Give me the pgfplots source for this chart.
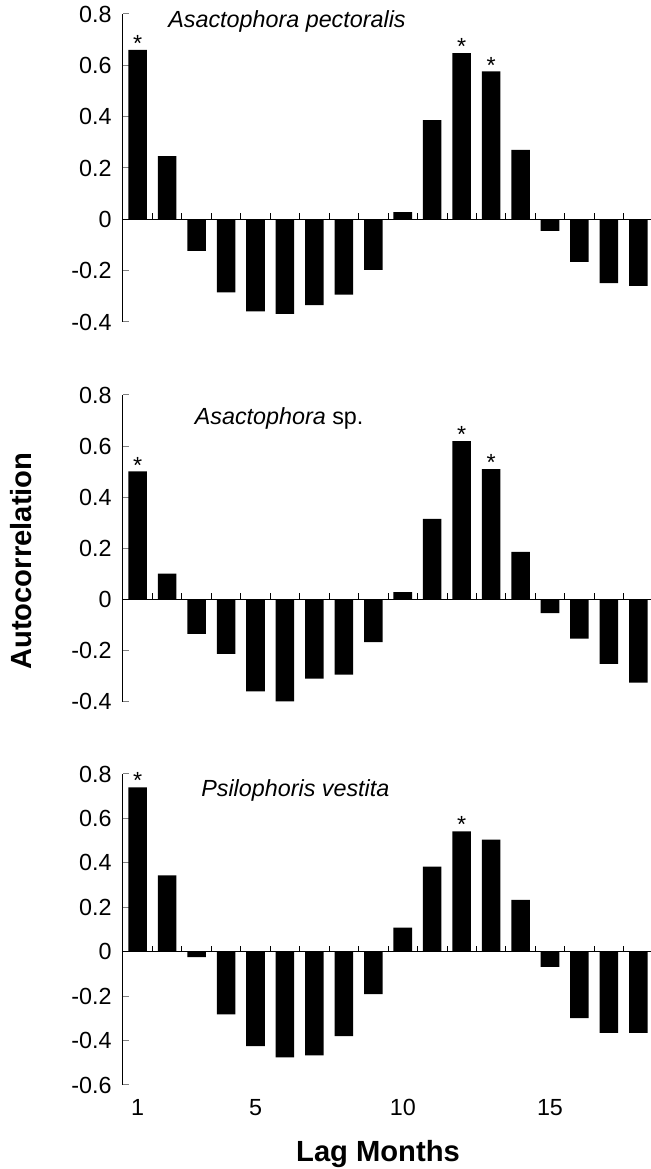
\documentclass[border=0pt]{standalone}
\usepackage{fontspec}
\setmainfont{Liberation Sans}
\usepackage{pgfplots}
\pgfplotsset{compat=1.18}

% 1 px of the reference = 0.6pt
\pgfplotsset{
  acf/.style={
    scale only axis, width=316.8pt,
    xmin=0.5, xmax=18.43,
    axis y line*=left, axis x line*=bottom,
    x axis line style={draw=none}, xtick style={draw=none},
    y axis line style={line width=0.6pt}, ytick style={line width=0.6pt},
    tick align=inside, major tick length=3.8pt,
    yticklabel style={font=\fontsize{14}{14}\selectfont, inner sep=0pt, xshift=-6.6pt},
    xticklabel style={font=\fontsize{14}{14}\selectfont, anchor=base, inner sep=0pt},
    clip=false,
  },
  bars/.style={ybar, bar shift=0pt, bar width=0.63, fill=black, draw=none},
  stars/.style={draw=none, mark=none, nodes near coords={*},
    every node near coord/.append style={font=\fontsize{14}{14}\selectfont, inner sep=0pt, yshift=-1.2pt}},
}
\newcommand{\zeroline}{%
  \draw[line width=0.8pt] (axis cs:0.5,0) -- (axis cs:18.43,0);
  \pgfplotsinvokeforeach{1.5,2.5,...,17.5}{\draw[line width=0.5pt] (axis cs:##1,0) -- ++(0pt,3.6pt);}
}

\begin{document}
\begin{tikzpicture}
\path[use as bounding box] (0,0) rectangle (390.6pt,701.4pt);

% Asactophora pectoralis
\begin{axis}[acf, at={(73.8pt,508.2pt)}, anchor=south west, height=184.8pt,
  ymin=-0.4, ymax=0.8, xtick=\empty,
  ytick={-0.4,-0.2,0,0.2,0.4,0.6,0.8}, yticklabels={-0.4,-0.2,0,0.2,0.4,0.6,0.8}]
\addplot[bars] coordinates {
(1,0.660) (2,0.246) (3,-0.123) (4,-0.285) (5,-0.359) (6,-0.368)
(7,-0.334) (8,-0.293) (9,-0.197) (10,0.028) (11,0.386) (12,0.647)
(13,0.576) (14,0.271) (15,-0.045) (16,-0.166) (17,-0.249) (18,-0.259)};
\addplot[stars] coordinates {(1,0.660) (12,0.647) (13,0.576)};
\zeroline
\end{axis}

% Asactophora sp.
\begin{axis}[acf, at={(73.8pt,280.4pt)}, anchor=south west, height=184pt,
  ymin=-0.4, ymax=0.8, xtick=\empty,
  ytick={-0.4,-0.2,0,0.2,0.4,0.6,0.8}, yticklabels={-0.4,-0.2,0,0.2,0.4,0.6,0.8}]
\addplot[bars] coordinates {
(1,0.501) (2,0.101) (3,-0.135) (4,-0.213) (5,-0.360) (6,-0.399)
(7,-0.310) (8,-0.294) (9,-0.167) (10,0.029) (11,0.315) (12,0.619)
(13,0.510) (14,0.186) (15,-0.054) (16,-0.153) (17,-0.252) (18,-0.326)};
\addplot[stars] coordinates {(1,0.501) (12,0.619) (13,0.510)};
\zeroline
\end{axis}

% Psilophoris vestita
\begin{axis}[acf, at={(73.8pt,50.4pt)}, anchor=south west, height=186.6pt,
  ymin=-0.6, ymax=0.8,
  xtick={1,5,10,15}, xticklabels={1,5,10,15},
  xticklabel style={yshift=-18.2pt},
  ytick={-0.6,-0.4,-0.2,0,0.2,0.4,0.6,0.8}, yticklabels={-0.6,-0.4,-0.2,0,0.2,0.4,0.6,0.8}]
\addplot[bars] coordinates {
(1,0.740) (2,0.344) (3,-0.024) (4,-0.282) (5,-0.425) (6,-0.476)
(7,-0.467) (8,-0.380) (9,-0.191) (10,0.108) (11,0.383) (12,0.542)
(13,0.504) (14,0.233) (15,-0.068) (16,-0.299) (17,-0.365) (18,-0.365)};
\addplot[stars] coordinates {(1,0.740) (12,0.542)};
\zeroline
\end{axis}

% panel titles
\node[inner sep=0pt, anchor=base west, font=\itshape\fontsize{14}{14}\selectfont] at (100.8pt,685pt) {Asactophora pectoralis};
\node[inner sep=0pt, anchor=base west, font=\fontsize{14}{14}\selectfont] at (116.7pt,446.4pt) {\itshape Asactophora\/\upshape{} sp.};
\node[inner sep=0pt, anchor=base west, font=\itshape\fontsize{14}{14}\selectfont] at (120.6pt,223.4pt) {Psilophoris vestita};

% axis titles
\node[inner sep=0pt, rotate=90, anchor=base west, font=\bfseries\fontsize{17.5}{17.5}\selectfont] at (19pt,299.4pt) {Autocorrelation};
\node[inner sep=0pt, anchor=base, font=\bfseries\fontsize{17.5}{17.5}\selectfont] at (226.8pt,4.8pt) {Lag Months};
\end{tikzpicture}
\end{document}
